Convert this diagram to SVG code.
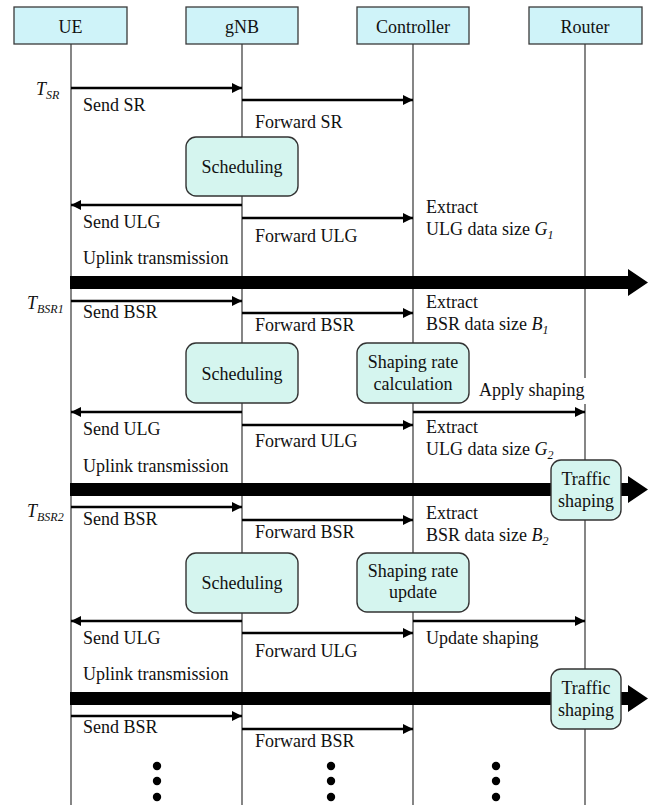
<svg xmlns="http://www.w3.org/2000/svg" width="656" height="805" viewBox="0 0 656 805" font-family="'Liberation Serif', Tinos, 'Times New Roman', 'DejaVu Serif', serif">
<style>
text{font-family:'Liberation Serif', Tinos, 'Times New Roman', 'DejaVu Serif', serif;font-size:18px;fill:#111}
.c{text-anchor:middle}
.hdr{fill:#cff3f9;stroke:#3a3a3a;stroke-width:1.3}
.proc{fill:#d5f5ef;stroke:#333;stroke-width:1.4}
.life{stroke:#222;stroke-width:1.1;fill:none}
.msg{stroke:#000;stroke-width:2.5;fill:none;marker-end:url(#ah)}
.thick{fill:#000}
.i{font-style:italic}
.s{font-size:12px;font-style:italic}
</style>
<defs>
<marker id="ah" markerUnits="userSpaceOnUse" markerWidth="11" markerHeight="11" refX="10" refY="5" orient="auto">
<path d="M0,0 L10,5 L0,10 z" fill="#000"/>
</marker>
</defs>
<rect width="656" height="805" fill="#fff"/>
<g id="lifelines">
<line class="life" x1="71" y1="44" x2="71" y2="805"/>
<line class="life" x1="242" y1="44" x2="242" y2="805"/>
<line class="life" x1="413" y1="44" x2="413" y2="805"/>
<line class="life" x1="585" y1="44" x2="585" y2="805"/>
</g>
<g id="connectors">
<line class="msg" x1="71" y1="88" x2="242" y2="88"/>
<line class="msg" x1="242" y1="100" x2="413" y2="100"/>
<line class="msg" x1="242" y1="205" x2="71" y2="205"/>
<line class="msg" x1="242" y1="218" x2="413" y2="218"/>
<path class="thick" d="M70,276 H628 V269 L648,282.5 L628,296 V289 H70 Z"/>
<line class="msg" x1="71" y1="301" x2="242" y2="301"/>
<line class="msg" x1="242" y1="313" x2="413" y2="313"/>
<line class="msg" x1="413" y1="412" x2="585" y2="412"/>
<line class="msg" x1="242" y1="412" x2="71" y2="412"/>
<line class="msg" x1="242" y1="425" x2="413" y2="425"/>
<path class="thick" d="M70,483 H628 V476 L648,489.5 L628,503 V496 H70 Z"/>
<line class="msg" x1="71" y1="507" x2="242" y2="507"/>
<line class="msg" x1="242" y1="520" x2="413" y2="520"/>
<line class="msg" x1="242" y1="621" x2="71" y2="621"/>
<line class="msg" x1="413" y1="621" x2="585" y2="621"/>
<line class="msg" x1="242" y1="633" x2="413" y2="633"/>
<path class="thick" d="M70,692 H628 V685 L648,698.5 L628,712 V705 H70 Z"/>
<line class="msg" x1="71" y1="716" x2="242" y2="716"/>
<line class="msg" x1="242" y1="729" x2="413" y2="729"/>
</g>
<g id="ue"><rect class="hdr" x="14" y="7" width="113" height="37"/><text class="c" x="70.5" y="33">UE</text></g>
<g id="gnb"><rect class="hdr" x="186" y="7" width="112" height="37"/><text class="c" x="242" y="33">gNB</text></g>
<g id="controller"><rect class="hdr" x="357" y="7" width="112" height="37"/><text class="c" x="413" y="33">Controller</text></g>
<g id="router"><rect class="hdr" x="529" y="7" width="113" height="37"/><text class="c" x="585" y="33">Router</text></g>
<g id="sched1"><rect class="proc" x="186" y="137" width="112" height="59" rx="10"/><text class="c" x="242" y="173">Scheduling</text></g>
<g id="sched2"><rect class="proc" x="186" y="343" width="112" height="60" rx="10"/><text class="c" x="242" y="380">Scheduling</text></g>
<g id="shapecalc"><rect class="proc" x="357" y="343" width="112" height="60" rx="10"/><text class="c" x="413" y="368">Shaping rate</text><text class="c" x="413" y="390">calculation</text></g>
<g id="traffic1"><rect class="proc" x="551" y="460" width="70" height="60" rx="10"/><text class="c" x="586" y="485">Traffic</text><text class="c" x="586" y="507">shaping</text></g>
<g id="sched3"><rect class="proc" x="186" y="553" width="112" height="60" rx="10"/><text class="c" x="242" y="589">Scheduling</text></g>
<g id="shapeupd"><rect class="proc" x="357" y="553" width="112" height="59" rx="10"/><text class="c" x="413" y="577">Shaping rate</text><text class="c" x="413" y="598">update</text></g>
<g id="traffic2"><rect class="proc" x="551" y="669" width="70" height="60" rx="10"/><text class="c" x="586" y="694">Traffic</text><text class="c" x="586" y="716">shaping</text></g>
<g id="labels">
<text x="36" y="95"><tspan class="i">T</tspan><tspan class="s" dy="4">SR</tspan></text>
<text x="83" y="111">Send SR</text>
<text x="255" y="128">Forward SR</text>
<text x="83" y="228">Send ULG</text>
<text x="255" y="242">Forward ULG</text>
<text x="426" y="213">Extract</text>
<text x="426" y="235">ULG data size <tspan class="i">G</tspan><tspan class="s" dy="4">1</tspan></text>
<text x="83" y="264">Uplink transmission</text>
<text x="27" y="309"><tspan class="i">T</tspan><tspan class="s" dy="4">BSR1</tspan></text>
<text x="83" y="318">Send BSR</text>
<text x="255" y="331">Forward BSR</text>
<text x="426" y="308">Extract</text>
<text x="426" y="330">BSR data size <tspan class="i">B</tspan><tspan class="s" dy="4">1</tspan></text>
<rect x="477" y="378" width="111" height="26" fill="#fff"/>
<text x="479" y="396">Apply shaping</text>
<text x="83" y="435">Send ULG</text>
<text x="255" y="447">Forward ULG</text>
<text x="426" y="433">Extract</text>
<text x="426" y="455">ULG data size <tspan class="i">G</tspan><tspan class="s" dy="4">2</tspan></text>
<text x="83" y="472">Uplink transmission</text>
<text x="27" y="517"><tspan class="i">T</tspan><tspan class="s" dy="4">BSR2</tspan></text>
<text x="83" y="525">Send BSR</text>
<text x="255" y="538">Forward BSR</text>
<text x="426" y="519">Extract</text>
<text x="426" y="541">BSR data size <tspan class="i">B</tspan><tspan class="s" dy="4">2</tspan></text>
<text x="83" y="644">Send ULG</text>
<text x="426" y="644">Update shaping</text>
<text x="255" y="657">Forward ULG</text>
<text x="83" y="680">Uplink transmission</text>
<text x="83" y="733">Send BSR</text>
<text x="255" y="747">Forward BSR</text>
</g>
<g id="dots" fill="#000">
<circle cx="157" cy="766" r="4.2"/><circle cx="157" cy="781" r="4.2"/><circle cx="157" cy="797" r="4.2"/>
<circle cx="331" cy="766" r="4.2"/><circle cx="331" cy="781" r="4.2"/><circle cx="331" cy="797" r="4.2"/>
<circle cx="496" cy="766" r="4.2"/><circle cx="496" cy="781" r="4.2"/><circle cx="496" cy="797" r="4.2"/>
</g>
</svg>
